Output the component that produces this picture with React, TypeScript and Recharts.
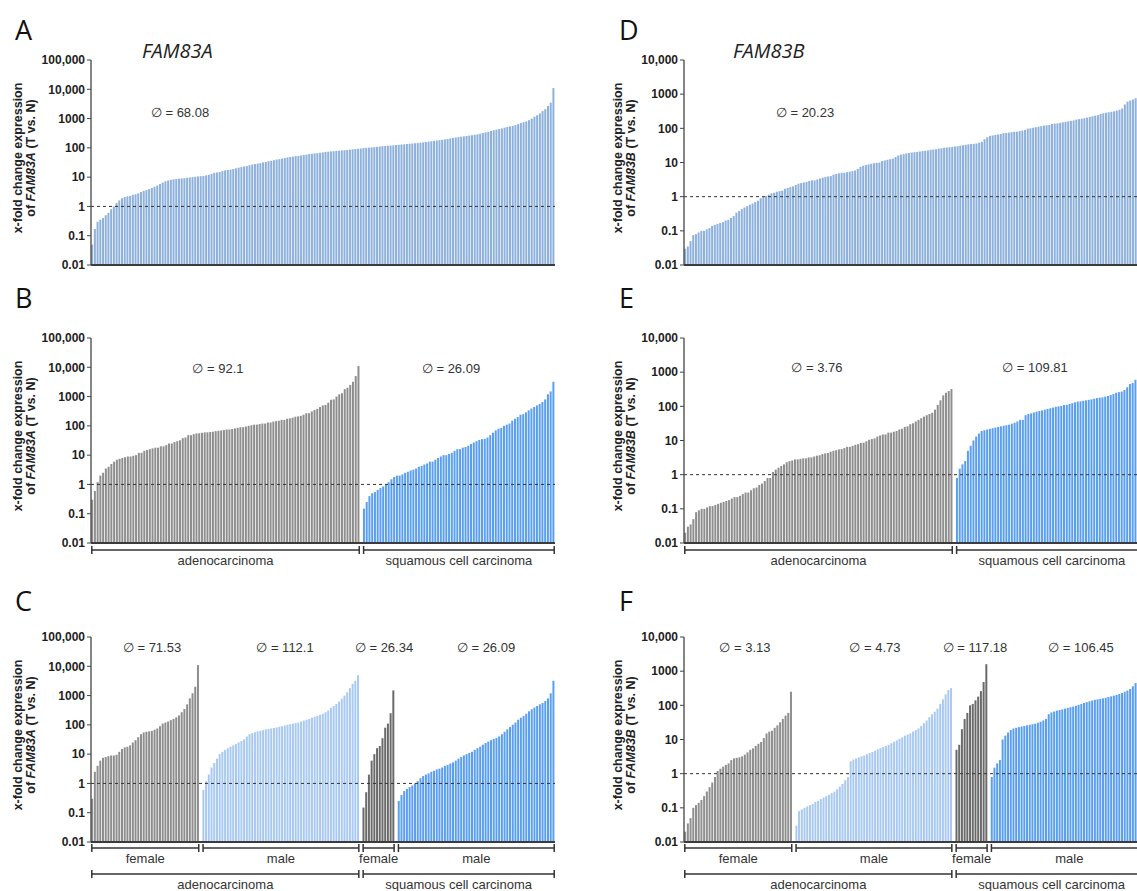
import { Bar, BarChart, Cell, ReferenceLine, XAxis, YAxis } from 'recharts';

// FAM83A, all tumours (panel A), sorted
const famA_all = [
  0.05, 0.17, 0.3, 0.35, 0.4, 0.5, 0.6, 0.8, 1.0, 1.3,
  1.6, 1.9, 2.1, 2.2, 2.3, 2.5, 2.6, 2.8, 3.1, 3.4,
  3.6, 3.9, 4.3, 4.7, 5.2, 5.8, 6.5, 7.2, 7.7, 8.1,
  8.4, 8.6, 8.8, 9.0, 9.2, 9.5, 9.8, 10, 10.3, 10.6,
  10.8, 11, 11.5, 12, 13, 14, 14.5, 15, 16, 17,
  17.5, 18, 19, 20, 21, 22, 23, 24, 25.5, 27,
  28, 29, 30, 32, 33, 35, 36, 38, 40, 41,
  43, 45, 47, 49, 50, 52, 53, 55, 57, 59,
  61, 63, 65, 66, 68, 70, 72, 74, 76, 77,
  79, 80, 82, 83, 85, 87, 89, 91, 93, 95,
  98, 100, 102, 104, 106, 108, 111, 114, 116, 118,
  120, 122, 125, 127, 130, 132, 135, 138, 141, 144,
  147, 150, 154, 158, 163, 168, 173, 178, 182, 188,
  195, 202, 210, 218, 226, 232, 240, 248, 255, 263,
  270, 278, 290, 305, 320, 340, 355, 380, 400, 420,
  440, 460, 490, 515, 540, 560, 600, 650, 700, 750,
  800, 880, 1000, 1150, 1300, 1500, 1800, 2100, 2700, 3500,
  11000,
];

// FAM83A by histology and sex (panel C)
const famA_femaleAdeno = [
  0.3, 2.5, 4, 6, 7.5, 8, 8.5, 9, 9, 9.5,
  12, 15, 17, 18, 20, 25, 30, 38, 48, 55,
  58, 60, 62, 68, 75, 90, 110, 120, 130, 145,
  160, 180, 210, 270, 350, 500, 800, 1200, 2000, 11000,
];
const famA_maleAdeno = [
  0.6, 1.2, 2, 3.5, 5, 7, 10, 12, 14, 16,
  18, 20, 22, 25, 28, 32, 40, 48, 52, 56,
  60, 63, 66, 70, 72, 75, 78, 82, 86, 90,
  95, 100, 105, 110, 115, 120, 130, 140, 150, 160,
  175, 190, 205, 220, 240, 270, 310, 380, 440, 520,
  620, 780, 1000, 1300, 1800, 2500, 3200, 5000,
];
const famA_femaleSq = [0.15, 0.5, 2, 6, 10, 16, 19, 35, 80, 110, 250, 1500];
const famA_maleSq = [
  0.25, 0.4, 0.55, 0.65, 0.75, 0.85, 1, 1.2, 1.5, 1.8,
  2, 2.2, 2.5, 2.7, 3, 3.2, 3.5, 4, 4.3, 4.8,
  5.2, 6, 7, 8, 9, 10, 11, 12, 14, 16,
  18, 21, 24, 27, 30, 33, 36, 40, 48, 58,
  70, 85, 100, 120, 150, 175, 200, 240, 290, 340,
  390, 440, 500, 560, 650, 800, 1200, 3200,
];

// FAM83B, all tumours (panel D), sorted
const famB_all = [
  0.03, 0.035, 0.05, 0.075, 0.08, 0.09, 0.1, 0.1, 0.11, 0.12,
  0.14, 0.15, 0.16, 0.17, 0.18, 0.2, 0.21, 0.24, 0.27, 0.34,
  0.38, 0.43, 0.48, 0.53, 0.58, 0.63, 0.7, 0.76, 0.9, 0.97,
  1.05, 1.15, 1.25, 1.3, 1.4, 1.45, 1.5, 1.7, 1.8, 1.9,
  2.0, 2.2, 2.4, 2.5, 2.6, 2.7, 2.9, 3.0, 3.0, 3.2,
  3.4, 3.6, 3.8, 3.9, 4.0, 4.4, 4.6, 4.8, 5.0, 5.0,
  5.2, 5.4, 5.6, 5.8, 6.5, 7.5, 8.0, 8.4, 8.8, 9.2,
  9.5, 9.8, 10, 11, 11.5, 12, 12.5, 13, 14.5, 16,
  17, 17.5, 18.5, 19, 19.5, 20, 20.5, 21, 21.5, 22,
  22.5, 23.5, 24, 24.5, 25.5, 26, 27, 27.5, 28, 28.5,
  29.5, 30, 31, 32, 33, 34, 35, 35, 36, 38,
  40, 48, 55, 60, 62, 64, 66, 68, 72, 73,
  75, 77, 79, 80, 83, 86, 90, 98, 100, 104,
  108, 112, 116, 120, 123, 126, 134, 137, 140, 145,
  150, 155, 160, 165, 170, 180, 186, 192, 198, 205,
  215, 225, 235, 245, 265, 275, 285, 295, 305, 315,
  330, 350, 380, 500, 600, 650, 700, 760, 830, 950,
  1200, 2000,
];

// FAM83B by histology and sex (panel F)
const famB_femaleAdeno = [
  0.02, 0.035, 0.05, 0.1, 0.12, 0.14, 0.17, 0.22, 0.3, 0.4,
  0.55, 0.8, 1.2, 1.4, 1.6, 1.8, 2.0, 2.5, 2.8, 2.9,
  3.0, 3.2, 3.6, 4.2, 5.0, 5.5, 6.5, 7.5, 8.5, 11,
  15, 17, 18, 22, 26, 32, 40, 50, 60, 250,
];
const famB_maleAdeno = [
  0.03, 0.08, 0.09, 0.1, 0.11, 0.12, 0.13, 0.15, 0.16, 0.18,
  0.2, 0.22, 0.24, 0.27, 0.3, 0.35, 0.42, 0.5, 0.65, 0.8,
  2.3, 2.6, 2.8, 3.0, 3.2, 3.4, 3.7, 4.0, 4.3, 4.7,
  5.2, 5.6, 6.0, 6.5, 7.0, 7.8, 8.6, 9.5, 10.5, 11.5,
  13, 14, 15, 17, 19, 21, 25, 30, 36, 45,
  55, 65, 80, 110, 150, 210, 280, 320,
];
const famB_femaleSq = [5, 7, 20, 40, 60, 100, 110, 140, 180, 260, 480, 1600];
const famB_maleSq = [
  0.8, 1.5, 2, 2.5, 10, 13, 16, 19, 21, 22,
  23, 24, 25, 26, 27, 28, 29, 31, 33, 36,
  40, 55, 62, 66, 70, 73, 76, 80, 84, 88,
  92, 97, 103, 110, 117, 124, 131, 138, 145, 150,
  155, 160, 167, 175, 183, 192, 202, 215, 230, 250,
  270, 300, 360, 450, 600, 800, 1000, 1400,
];

const means = {
  A: ['68.08'],
  B: ['92.1', '26.09'],
  C: ['71.53', '112.1', '26.34', '26.09'],
  D: ['20.23'],
  E: ['3.76', '109.81'],
  F: ['3.13', '4.73', '117.18', '106.45'],
};

const STEEL = '#8db0dc';
const GRAY = '#8e8e8e';
const DARK = '#6a6a6a';
const LIGHT = '#a9c9f0';
const BLUE = '#5a9eef';
const FONT = '"Liberation Sans", Arial, sans-serif';

const PLOT_W = 464;
const PLOT_H = 205;
const PAD = 10;

type Row = { i: number; v: number | null; c: string };
type Span = { s: number; e: number };

const sorted = (...lists: number[][]) => lists.flat().sort((a, b) => a - b);

function layout(groups: { values: number[]; color: string }[]) {
  const rows: Row[] = [];
  const spans: Span[] = [];
  groups.forEach((g, gi) => {
    if (gi > 0) rows.push({ i: rows.length, v: null, c: '#fff' });
    const s = rows.length;
    g.values.forEach((v) => rows.push({ i: rows.length, v, c: g.color }));
    spans.push({ s, e: rows.length - 1 });
  });
  return { rows, spans };
}

const fmt = (v: number) => (v >= 10000 ? v.toLocaleString('en-US') : String(v));

function LogPanel({ x, axisW, plotTop, max, rows }: { x: number; axisW: number; plotTop: number; max: number; rows: Row[] }) {
  const ticks = [0.01, 0.1, 1, 10, 100, 1000, 10000, 100000].filter((t) => t <= max);
  return (
    <div style={{ position: 'absolute', left: x, top: plotTop - PAD }}>
      <BarChart
        width={axisW + PLOT_W}
        height={PAD + PLOT_H + 4 + 10}
        data={rows}
        margin={{ top: PAD, right: 0, bottom: 10, left: 0 }}
        barCategoryGap="5%"
      >
        <XAxis dataKey="i" tick={false} tickLine={false} height={4} axisLine={{ stroke: '#3c3c3c', strokeWidth: 2 }} />
        <YAxis
          scale="log"
          domain={[0.01, max]}
          ticks={ticks}
          allowDataOverflow
          interval={0}
          width={axisW}
          tickSize={4}
          tickFormatter={fmt}
          tick={{ fontSize: 12, fontWeight: 700, fill: '#1e1e1e', fontFamily: FONT }}
          axisLine={{ stroke: '#444', strokeWidth: 1.3 }}
          tickLine={{ stroke: '#444' }}
        />
        <Bar dataKey="v" isAnimationActive={false}>
          {rows.map((r) => (
            <Cell key={r.i} fill={r.c} />
          ))}
        </Bar>
        <ReferenceLine y={1} stroke="#333" strokeDasharray="3 3" />
      </BarChart>
    </div>
  );
}

function YTitle({ x, cy, gene }: { x: number; cy: number; gene: string }) {
  return (
    <g fontFamily={FONT} fontWeight={700} fontSize={12.5} fill="#222">
      <text transform={`translate(${x + 22},${cy}) rotate(-90)`} textAnchor="middle">x-fold change expression</text>
      <text transform={`translate(${x + 35},${cy}) rotate(-90)`} textAnchor="middle">
        of <tspan fontStyle="italic">{gene}</tspan> (T vs. N)
      </text>
    </g>
  );
}

function Brackets({ left, count, y, spans, labels }: { left: number; count: number; y: number; spans: Span[]; labels: string[] }) {
  const p = PLOT_W / count;
  return (
    <g>
      {spans.map((g, k) => {
        const x1 = left + g.s * p + 0.8;
        const x2 = left + (g.e + 1) * p - 0.8;
        return (
          <g key={k}>
            <line x1={x1} x2={x2} y1={y} y2={y} stroke="#333" strokeWidth={1.5} />
            <line x1={x1} x2={x1} y1={y - 4} y2={y + 4} stroke="#333" strokeWidth={1.5} />
            <line x1={x2} x2={x2} y1={y - 4} y2={y + 4} stroke="#333" strokeWidth={1.5} />
            <text x={(x1 + x2) / 2} y={y + 15} textAnchor="middle" fontFamily={FONT} fontSize={13} fill="#333">
              {labels[k]}
            </text>
          </g>
        );
      })}
    </g>
  );
}

function Mean({ x, y, value }: { x: number; y: number; value: string }) {
  return (
    <text x={x} y={y} textAnchor="middle" fontFamily={FONT} fontSize={13} fill="#333">
      {'\u2205 = ' + value}
    </text>
  );
}

const L = { x: 0, axisW: 91 };
const R = { x: 600, axisW: 84 };

export default function App() {
  const a = layout([{ values: famA_all, color: STEEL }]);
  const b = layout([
    { values: sorted(famA_femaleAdeno, famA_maleAdeno), color: GRAY },
    { values: sorted(famA_femaleSq, famA_maleSq), color: BLUE },
  ]);
  const c = layout([
    { values: famA_femaleAdeno, color: GRAY },
    { values: famA_maleAdeno, color: LIGHT },
    { values: famA_femaleSq, color: DARK },
    { values: famA_maleSq, color: BLUE },
  ]);
  const d = layout([{ values: famB_all, color: STEEL }]);
  const e = layout([
    { values: sorted(famB_femaleAdeno, famB_maleAdeno), color: GRAY },
    { values: sorted(famB_femaleSq, famB_maleSq), color: BLUE },
  ]);
  const f = layout([
    { values: famB_femaleAdeno, color: GRAY },
    { values: famB_maleAdeno, color: LIGHT },
    { values: famB_femaleSq, color: DARK },
    { values: famB_maleSq, color: BLUE },
  ]);
  const histo = (s: Span[]) => [
    { s: s[0].s, e: s[1].e },
    { s: s[2].s, e: s[3].e },
  ];
  const lp = L.x + L.axisW;
  const rp = R.x + R.axisW;
  const letter = { fontFamily: '"Open Sans", sans-serif', fontSize: 27, fill: '#111' };
  const title = { fontFamily: '"Open Sans", sans-serif', fontSize: 20, fontStyle: 'italic', fill: '#222' };

  return (
    <div style={{ position: 'relative', width: 1137, height: 891, overflow: 'hidden', background: '#fff' }}>
      <style>{'body{margin:0;overflow:hidden}'}</style>
      <LogPanel x={L.x} axisW={L.axisW} plotTop={60} max={100000} rows={a.rows} />
      <LogPanel x={L.x} axisW={L.axisW} plotTop={338} max={100000} rows={b.rows} />
      <LogPanel x={L.x} axisW={L.axisW} plotTop={637} max={100000} rows={c.rows} />
      <LogPanel x={R.x} axisW={R.axisW} plotTop={60} max={10000} rows={d.rows} />
      <LogPanel x={R.x} axisW={R.axisW} plotTop={338} max={10000} rows={e.rows} />
      <LogPanel x={R.x} axisW={R.axisW} plotTop={637} max={10000} rows={f.rows} />
      <svg width={1137} height={891} style={{ position: 'absolute', left: 0, top: 0, pointerEvents: 'none' }}>
        <text x={15} y={40} {...letter}>A</text>
        <text x={15} y={308} {...letter}>B</text>
        <text x={15} y={611} {...letter}>C</text>
        <text x={619} y={40} {...letter}>D</text>
        <text x={619} y={308} {...letter}>E</text>
        <text x={619} y={611} {...letter}>F</text>
        <text x={142} y={58} {...title}>FAM83A</text>
        <text x={733} y={58} {...title}>FAM83B</text>

        <YTitle x={L.x} cy={158} gene="FAM83A" />
        <YTitle x={L.x} cy={436} gene="FAM83A" />
        <YTitle x={L.x} cy={735} gene="FAM83A" />
        <YTitle x={R.x} cy={158} gene="FAM83B" />
        <YTitle x={R.x} cy={436} gene="FAM83B" />
        <YTitle x={R.x} cy={735} gene="FAM83B" />

        <Mean x={180} y={117} value={means.A[0]} />
        <Mean x={218} y={373} value={means.B[0]} />
        <Mean x={451} y={373} value={means.B[1]} />
        <Mean x={152} y={652} value={means.C[0]} />
        <Mean x={285} y={652} value={means.C[1]} />
        <Mean x={384} y={652} value={means.C[2]} />
        <Mean x={486} y={652} value={means.C[3]} />
        <Mean x={805} y={117} value={means.D[0]} />
        <Mean x={817} y={372} value={means.E[0]} />
        <Mean x={1035} y={372} value={means.E[1]} />
        <Mean x={745} y={652} value={means.F[0]} />
        <Mean x={875} y={652} value={means.F[1]} />
        <Mean x={975} y={652} value={means.F[2]} />
        <Mean x={1081} y={652} value={means.F[3]} />

        <Brackets left={lp} count={b.rows.length} y={550} spans={b.spans} labels={['adenocarcinoma', 'squamous cell carcinoma']} />
        <Brackets left={rp} count={e.rows.length} y={550} spans={e.spans} labels={['adenocarcinoma', 'squamous cell carcinoma']} />
        <Brackets left={lp} count={c.rows.length} y={848} spans={c.spans} labels={['female', 'male', 'female', 'male']} />
        <Brackets left={lp} count={c.rows.length} y={874} spans={histo(c.spans)} labels={['adenocarcinoma', 'squamous cell carcinoma']} />
        <Brackets left={rp} count={f.rows.length} y={848} spans={f.spans} labels={['female', 'male', 'female', 'male']} />
        <Brackets left={rp} count={f.rows.length} y={874} spans={histo(f.spans)} labels={['adenocarcinoma', 'squamous cell carcinoma']} />
      </svg>
    </div>
  );
}
